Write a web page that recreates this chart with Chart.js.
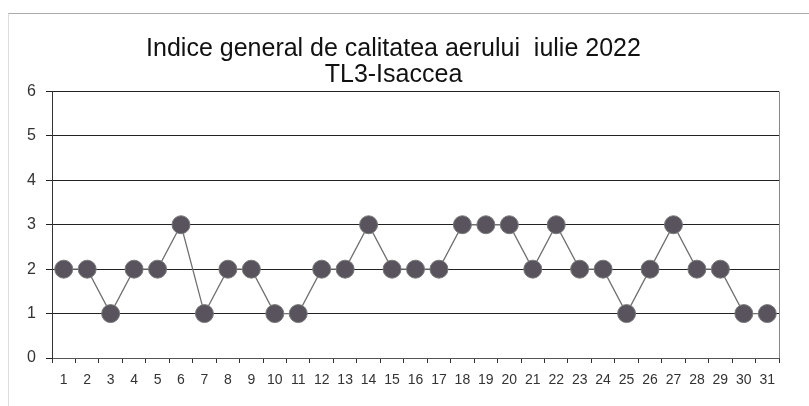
<!DOCTYPE html>
<html>
<head>
<meta charset="utf-8">
<script src="https://cdn.jsdelivr.net/npm/chart.js@4/dist/chart.umd.min.js"></script>
<style>
  html, body { margin: 0; padding: 0; background: #fff; }
  #wrap { position: relative; width: 809px; height: 406px; }
  #frame { position: absolute; left: 8px; top: 13px; right: 0; bottom: 0;
           border-top: 1px solid #aaa; border-left: 1px solid #ddd; }
  canvas { position: absolute; left: 0; top: 0; }
</style>
</head>
<body>
<div id="wrap">
  <div id="frame"></div>
  <canvas id="chart" width="809" height="406"></canvas>
</div>
<script>
const days = ['1','2','3','4','5','6','7','8','9','10','11','12','13','14','15','16','17','18','19','20','21','22','23','24','25','26','27','28','29','30','31'];
const indexValues = [2, 2, 1, 2, 2, 3, 1, 2, 2, 1, 1, 2, 2, 3, 2, 2, 2, 3, 3, 3, 2, 3, 2, 2, 1, 2, 3, 2, 2, 1, 1];
const titleLines = ['Indice general de calitatea aerului  iulie 2022', 'TL3-Isaccea'];

const ctx = document.getElementById('chart').getContext('2d');
const chart = new Chart(ctx, {
    type: 'line',
    data: {
        labels: days,
        datasets: [{
            data: indexValues,
            borderColor: '#707070',
            borderWidth: 1.3,
            pointRadius: 9,
            pointHoverRadius: 9,
            pointBackgroundColor: '#58535c',
            pointBorderColor: '#7a7a7a',
            pointBorderWidth: 1,
            tension: 0
        }]
    },
    options: {
        responsive: false,
        animation: false,
        layout: { padding: { left: 8, right: 30, top: 0, bottom: 13 } },
        plugins: {
            legend: { display: false },
            tooltip: { enabled: false },
            title: {
                display: true,
                text: titleLines,
                color: '#111',
                font: { family: 'Liberation Sans', size: 25, weight: 'normal', lineHeight: 1.05 },
                padding: { top: 36, bottom: 3 }
            }
        },
        scales: {
            x: {
                offset: true,
                grid: { offset: true, drawOnChartArea: false, color: '#333', tickLength: 5 },
                border: { color: '#555' },
                ticks: { color: '#333', font: { family: 'Liberation Sans', size: 14 }, padding: 9, maxRotation: 0, autoSkip: false },
                afterFit: function(scale) { scale.height = 35; }
            },
            y: {
                min: 0,
                max: 6,
                ticks: { stepSize: 1, color: '#333', font: { family: 'Liberation Sans', size: 16 }, padding: 10 },
                grid: { color: '#222', lineWidth: 1, tickLength: 6 },
                border: { color: '#333' },
                afterFit: function(scale) { scale.width = 44; }
            }
        }
    },
    plugins: [{
        id: 'rightBorder',
        afterDraw: function(c) {
            const a = c.chartArea;
            c.ctx.save();
            c.ctx.strokeStyle = '#888';
            c.ctx.lineWidth = 1;
            c.ctx.beginPath();
            c.ctx.moveTo(a.right + 0.5, a.top);
            c.ctx.lineTo(a.right + 0.5, a.bottom);
            c.ctx.stroke();
            c.ctx.restore();
        }
    }]
});
</script>
</body>
</html>
